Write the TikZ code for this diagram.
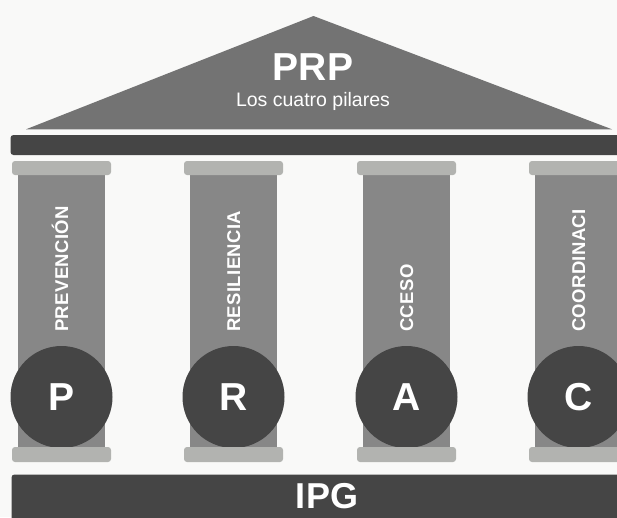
\documentclass[tikz,border=0pt]{standalone}
\usepackage{fontspec}
\setmainfont{Liberation Sans}
\newfontfamily\pillarfont[LetterSpace=2]{Liberation Sans}
\definecolor{bggray}{HTML}{F9F9F8}
\definecolor{roofgray}{HTML}{737373}
\definecolor{bargray}{HTML}{454545}
\definecolor{capgray}{HTML}{B2B3B0}
\definecolor{shaftgray}{HTML}{878787}
\begin{document}
\begin{tikzpicture}[x=1pt,y=-1pt,
  capstyle/.style={fill=capgray, rounded corners=3pt},
  shaftstyle/.style={fill=shaftgray},
  beamstyle/.style={fill=bargray, rounded corners=3pt},
  pillartext/.style={text=white, font=\pillarfont\bfseries\fontsize{18.5}{18.5}\selectfont, rotate=90, anchor=base west, inner sep=0pt},
  disc/.style={circle, fill=bargray, minimum size=102pt, inner sep=0pt, text=white, font=\bfseries\fontsize{39}{39}\selectfont},
  whitetext/.style={text=white, inner sep=0pt, anchor=base}]
\useasboundingbox (0,0) rectangle (617,517);
\clip (0,0) rectangle (617,517);
\fill[bggray] (0,0) rectangle (617,517);
% roof
\fill[roofgray] (313.5,16) -- (612,129.3) -- (26,129.3) -- cycle;
\node[whitetext, font=\bfseries\fontsize{39}{39}\selectfont] (prp) at (313,80) {PRP};
\node[whitetext, font=\fontsize{19.5}{19.5}\selectfont] (sub) at (313,106) {Los cuatro pilares};
% entablature
\fill[beamstyle] (10.5,135) rectangle (640,155);
% columns
\foreach \cx/\lab/\word/\nm in {61.5/P/PREVENCIÓN/p, 233.5/R/RESILIENCIA/r, 406.5/A/CCESO/a, 578.5/C/COORDINACI/c}{
  \fill[shaftstyle] (\cx-43.5,175) rectangle (\cx+43.5,462);
  \fill[capstyle] (\cx-49.5,161) rectangle (\cx+49.5,175);
  \node[pillartext] (word\nm) at (\cx+6.5,332) {\word};
  \node[disc] (disc\nm) at (\cx,397) {\lab};
  \fill[capstyle] (\cx-49.5,447) rectangle (\cx+49.5,462);
}
% base
\fill[beamstyle] (11.5,474.5) rectangle (640,540);
\node[whitetext, font=\bfseries\fontsize{36}{36}\selectfont] (ipg) at (327,508) {IPG};
\end{tikzpicture}
\end{document}
